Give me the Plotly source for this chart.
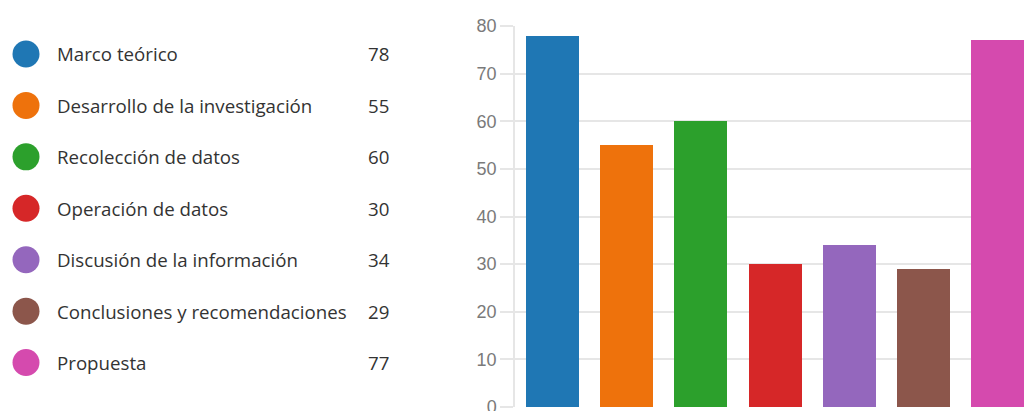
import plotly.graph_objects as go

# Categories, counts and colours for each section
categories = [
    "Marco teórico",
    "Desarrollo de la investigación",
    "Recolección de datos",
    "Operación de datos",
    "Discusión de la información",
    "Conclusiones y recomendaciones",
    "Propuesta",
]
counts = [78, 55, 60, 30, 34, 29, 77]
colors = ["#1f77b4", "#ee720c", "#2ca02c", "#d62728", "#9467bd", "#8c564b", "#d54aae"]
y_ticks = [0, 10, 20, 30, 40, 50, 60, 70, 80]

W, H = 1024, 425           # figure is a bit taller than the view; the bottom row is cut off
PLOT_LEFT = 515            # px, left edge of the bar plot area
CAT_W = 74.3               # px per category
TOP, BOTTOM = 25.5, 407    # px, y=80 and y=0

fig = go.Figure()

# Bar chart
fig.add_trace(go.Bar(
    x=list(range(len(categories))),
    y=counts,
    marker=dict(color=colors, line=dict(width=0)),
    width=53 / CAT_W,
    hovertext=categories,
    showlegend=False,
    xaxis="x", yaxis="y",
))

# Custom legend: coloured dots with label and count
idx = list(range(len(categories)))
fig.add_trace(go.Scatter(
    x=[26] * len(categories),
    y=idx,
    mode="markers",
    marker=dict(size=27, color=colors, line=dict(width=0)),
    showlegend=False, hoverinfo="skip",
    xaxis="x2", yaxis="y2",
))

label_font = dict(family="Open Sans", size=18.7, color="#333333")
annotations = []
for i, (name, val) in enumerate(zip(categories, counts)):
    annotations.append(dict(x=55, y=i, xref="x2", yref="y2", text=name,
                            showarrow=False, xanchor="left", yanchor="middle",
                            font=label_font))
    annotations.append(dict(x=366, y=i, xref="x2", yref="y2", text=str(val),
                            showarrow=False, xanchor="left", yanchor="middle",
                            font=label_font))

row0, row_step = 53.5, 51.5
legend_y_range = [(BOTTOM - row0) / row_step, (TOP - row0) / row_step]

visible_cats = (W - PLOT_LEFT) / CAT_W

fig.update_layout(
    width=W, height=H,
    margin=dict(l=0, r=0, t=TOP, b=H - BOTTOM),
    paper_bgcolor="white", plot_bgcolor="white",
    bargap=0,
    annotations=annotations,
    xaxis=dict(
        domain=[PLOT_LEFT / W, 1],
        range=[-0.5, -0.5 + visible_cats],
        showticklabels=False, showgrid=False, zeroline=False,
        showline=False, ticks="",
    ),
    yaxis=dict(
        range=[0, 80],
        tickvals=y_ticks,
        showgrid=True, gridcolor="#e6e6e6", gridwidth=1.5,
        zeroline=False,
        showline=True, linecolor="#e6e6e6", linewidth=1.5,
        ticks="outside", ticklen=13, tickcolor="#e6e6e6", tickwidth=1.5,
        tickfont=dict(family="Liberation Sans", size=18, color="#7a7a7a"),
        anchor="x",
    ),
    xaxis2=dict(
        domain=[0, 440 / W], range=[0, 440],
        visible=False, fixedrange=True,
    ),
    yaxis2=dict(
        domain=[0, 1], range=legend_y_range,
        visible=False, fixedrange=True, anchor="x2",
    ),
)

fig.write_html(
    "out.html",
    post_script="document.documentElement.style.overflow='hidden';"
                "document.body.style.overflow='hidden';",
)
